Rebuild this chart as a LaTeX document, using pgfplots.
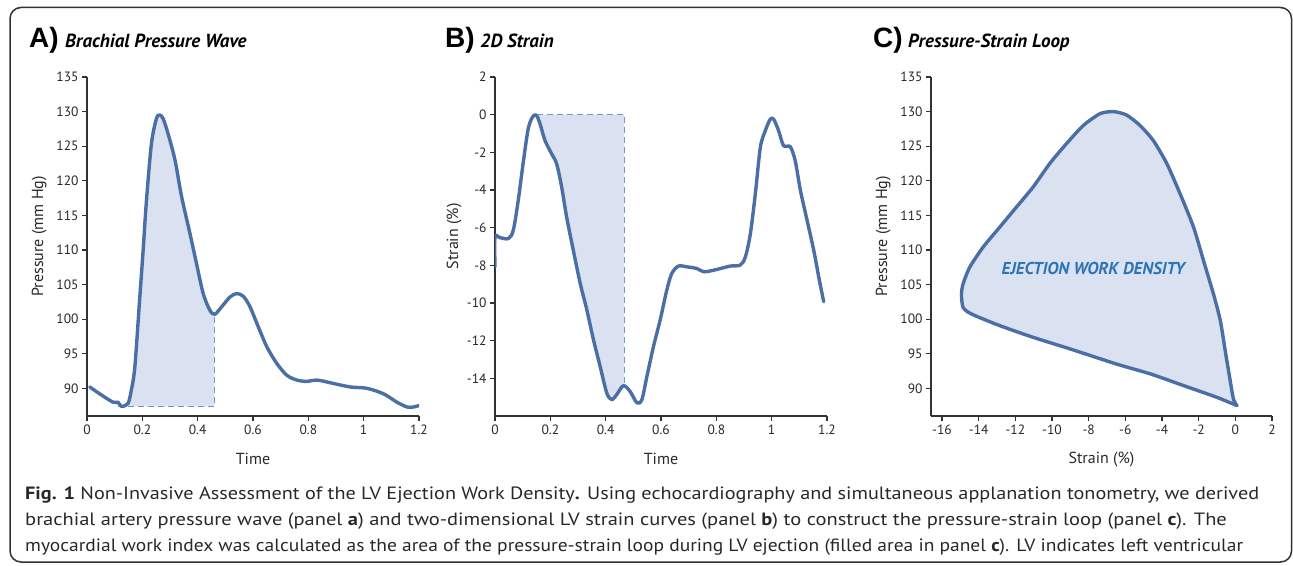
\documentclass[border=0pt]{standalone}
\usepackage{pgfplots}
\pgfplotsset{compat=1.18}
\usepackage{fontspec}
\setmainfont{PT Sans}
\newfontfamily\helv{Liberation Sans}
\definecolor{curve}{RGB}{74,111,165}
\definecolor{fillc}{RGB}{218,225,240}
\definecolor{dashc}{RGB}{120,148,200}
\definecolor{axgray}{RGB}{50,50,50}
\definecolor{textgray}{RGB}{40,40,40}
\definecolor{ejc}{RGB}{46,117,182}
\newcommand\ticksize{\fontsize{13.5}{15}\selectfont}
\newcommand\labsize{\fontsize{16}{18}\selectfont}
\pgfplotsset{
  myax/.style={
    scale only axis, axis lines=left,
    axis line style={-, line width=1.3pt, draw=axgray},
    tick style={line width=1.2pt, draw=axgray},
    tick align=outside, major tick length=5pt,
    tick label style={font=\ticksize, text=textgray},
    /pgf/number format/assume math mode=true,
    every axis x label/.style={at={(rel axis cs:0.5,0)}, anchor=base, yshift=-48pt, font=\labsize, text=textgray},
    every axis y label/.style={at={(rel axis cs:0,0.53)}, rotate=90, anchor=base, font=\labsize, text=textgray},
    height=339pt,
  },
  curvest/.style={line width=3.4pt, color=curve, smooth, line join=round, line cap=round},
  dashst/.style={line width=1.4pt, color=dashc, dash pattern=on 6pt off 4pt},
}
\begin{document}
\begin{tikzpicture}[x=1pt,y=1pt]
\useasboundingbox (0,0) rectangle (1293,565);
\draw[line width=1.5pt, color=axgray, rounded corners=11pt] (10,3) rectangle (1291.5,557.5);

% titles
\node[anchor=base west, inner sep=0pt] at (29,517) {\helv\bfseries\fontsize{28}{30}\selectfont A)};
\node[anchor=base west, inner sep=0pt] at (65,517) {\bfseries\itshape\fontsize{19}{21}\selectfont Brachial Pressure Wave};
\node[anchor=base west, inner sep=0pt] at (445,517) {\helv\bfseries\fontsize{28}{30}\selectfont B)};
\node[anchor=base west, inner sep=0pt] at (480,517) {\bfseries\itshape\fontsize{19}{21}\selectfont 2D Strain};
\node[anchor=base west, inner sep=0pt] at (873,517) {\helv\bfseries\fontsize{28}{30}\selectfont C)};
\node[anchor=base west, inner sep=0pt] at (908,517) {\bfseries\itshape\fontsize{19}{21}\selectfont Pressure-Strain Loop};

% Panel A
\begin{axis}[myax, at={(87pt,149pt)}, anchor=south west, width=332pt,
  xmin=0, xmax=1.2, ymin=86, ymax=135,
  xtick={0,0.2,0.4,0.6,0.8,1,1.2}, ytick={90,95,...,135},
  xlabel={Time}, ylabel={Pressure (mm Hg)}, ylabel style={yshift=44pt}]
\addplot[fill=fillc, draw=none] coordinates {(0.112,87.4)(0.124,87.4)(0.148,87.8)(0.16,89.7)(0.173,93.1)(0.19,102.7)(0.203,110)(0.215,117.2)(0.233,125.4)(0.251,129)(0.263,129.5)(0.275,129)(0.293,126.8)(0.318,123)(0.342,117.7)(0.372,112.4)(0.396,108)(0.42,103.7)(0.444,101.3)(0.46,100.7)(0.46,87.4)} -- cycle;
\addplot[dashst] coordinates {(0.112,87.4)(0.46,87.4)(0.46,100.7)};
\addplot[curvest] coordinates {(0.01,90.2)(0.046,89.2)(0.094,88.0)(0.112,88.0)(0.124,87.4)(0.148,87.8)(0.16,89.7)(0.173,93.1)(0.19,102.7)(0.203,110)(0.215,117.2)(0.233,125.4)(0.251,129)(0.263,129.5)(0.275,129)(0.293,126.8)(0.318,123)(0.342,117.7)(0.372,112.4)(0.396,108)(0.42,103.7)(0.444,101.3)(0.462,100.7)(0.487,101.8)(0.517,103.2)(0.541,103.7)(0.565,103.3)(0.589,101.8)(0.619,98.9)(0.65,96)(0.686,93.6)(0.722,91.9)(0.758,91.2)(0.794,91.0)(0.831,91.2)(0.891,90.7)(0.951,90.2)(1.012,90.0)(1.072,89.2)(1.12,88.0)(1.157,87.3)(1.18,87.3)(1.199,87.5)};
\end{axis}

% Panel B
\begin{axis}[myax, at={(495pt,149pt)}, anchor=south west, width=332pt,
  xmin=0, xmax=1.2, ymin=-16, ymax=2,
  xtick={0,0.2,0.4,0.6,0.8,1,1.2}, ytick={-14,-12,...,2},
  xlabel={Time}, ylabel={Strain (\%)}, ylabel style={yshift=37pt}]
\addplot[fill=fillc, draw=none] coordinates {(0.151,0)(0.151,-0.06)(0.163,-0.5)(0.181,-1.38)(0.205,-2.09)(0.223,-2.62)(0.241,-3.85)(0.259,-5.44)(0.283,-7.2)(0.308,-8.96)(0.332,-10.37)(0.356,-11.96)(0.38,-13.37)(0.404,-14.78)(0.422,-15.13)(0.44,-14.86)(0.464,-14.39)(0.467,-14.4)(0.467,0)} -- cycle;
\addplot[dashst] coordinates {(0.151,0)(0.467,0)(0.467,-14.4)};
\addplot[curvest] coordinates {(0,-8.08)(0,-6.49)(0.018,-6.53)(0.048,-6.58)(0.066,-6.14)(0.084,-4.55)(0.103,-2.44)(0.121,-0.68)(0.139,-0.06)(0.151,-0.06)(0.163,-0.5)(0.181,-1.38)(0.205,-2.09)(0.223,-2.62)(0.241,-3.85)(0.259,-5.44)(0.283,-7.2)(0.308,-8.96)(0.332,-10.37)(0.356,-11.96)(0.38,-13.37)(0.404,-14.78)(0.422,-15.13)(0.44,-14.86)(0.464,-14.39)(0.488,-14.69)(0.513,-15.3)(0.531,-15.13)(0.549,-13.9)(0.573,-12.3)(0.597,-10.9)(0.621,-9.31)(0.639,-8.43)(0.663,-8.04)(0.693,-8.08)(0.73,-8.17)(0.754,-8.34)(0.79,-8.26)(0.85,-8.04)(0.886,-7.99)(0.905,-7.55)(0.923,-6.32)(0.941,-4.2)(0.959,-1.74)(0.977,-0.85)(0.995,-0.24)(1.007,-0.24)(1.025,-0.85)(1.043,-1.65)(1.067,-1.7)(1.085,-2.44)(1.104,-4.03)(1.128,-5.61)(1.152,-7.2)(1.17,-8.61)(1.188,-9.93)};
\end{axis}

% Panel C
\begin{axis}[myax, at={(931pt,149pt)}, anchor=south west, width=341pt,
  xmin=-16.6, xmax=2, ymin=86, ymax=135,
  xtick={-16,-14,...,2}, ytick={90,95,...,135},
  xlabel={Strain (\%)}, ylabel={Pressure (mm Hg)}, ylabel style={yshift=44pt}]
\addplot[curvest, fill=fillc, tension=0.4] coordinates {(0.09,87.5)(-1.01,88.7)(-2.83,90.4)(-4.65,92.1)(-6.47,93.5)(-9.02,95.7)(-11.03,97.37)(-12.85,99.06)(-14.4,100.75)(-14.85,101.7)(-14.94,103.6)(-14.85,105.1)(-14.49,107.5)(-13.76,110.4)(-12.85,113.3)(-11.94,116.2)(-11.03,119.1)(-10.12,122.5)(-9.2,125.4)(-8.29,128)(-7.38,129.7)(-6.65,130.0)(-5.93,129.5)(-5.2,128)(-4.47,125.8)(-3.74,122.5)(-3.01,118.1)(-2.28,113.3)(-1.74,108.5)(-1.19,103.6)(-0.82,99.8)(-0.55,95.4)(-0.28,91.1)(-0.1,88.4)(0.09,87.5)};
\node[text=ejc, font=\bfseries\itshape\fontsize{17.2}{19}\selectfont] at (axis cs:-7.75,107.3) {EJECTION WORK DENSITY};
\end{axis}

% caption
\begin{scope}[every node/.style={anchor=base west, inner sep=0pt, text=textgray, font=\fontsize{17.8}{19}\selectfont}]
\node at (25,66) {\scalebox{1.136}[1]{\textbf{Fig. 1} Non-Invasive Assessment of the LV Ejection Work Density\textbf{.} Using echocardiography and simultaneous applanation tonometry, we derived}};
\node at (25,39) {\scalebox{1.15}[1]{brachial artery pressure wave (panel \textbf{a}) and two-dimensional LV strain curves (panel \textbf{b}) to construct the pressure-strain loop (panel \textbf{c}). The}};
\node at (25,13) {\scalebox{1.095}[1]{myocardial work index was calculated as the area of the pressure-strain loop during LV ejection (filled area in panel \textbf{c}). LV indicates left ventricular}};
\end{scope}
\end{tikzpicture}
\end{document}
